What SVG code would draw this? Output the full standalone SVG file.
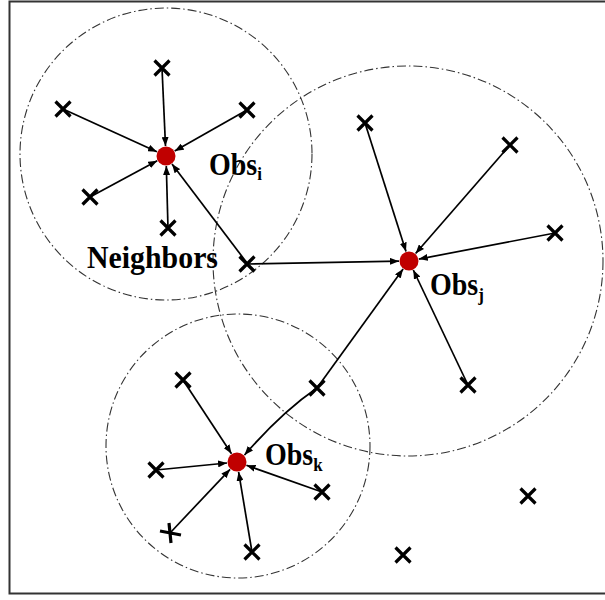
<svg xmlns="http://www.w3.org/2000/svg" width="605" height="600" viewBox="0 0 605 600">
<style>
.rng{fill:none;stroke:#333;stroke-width:1.1;stroke-dasharray:9,3,1.5,3}
.x{stroke:#000;stroke-width:3.2;stroke-linecap:butt;fill:none}
.c{stroke:#000;stroke-width:1.7;fill:none;marker-end:url(#ah)}
.dot{fill:#C00000}
.lbl{font-family:"Liberation Serif","Times New Roman",serif;font-weight:bold;font-size:28px;fill:#000}
.sub{font-size:17px}
</style>
<defs>
<marker id="ah" markerUnits="userSpaceOnUse" markerWidth="9" markerHeight="7" refX="9" refY="3.5" orient="auto">
<path d="M0,0 L9,3.5 L0,7 z" fill="#000"/>
</marker>
<path id="cross" d="M-7.5,-7.5 L7.5,7.5 M-7.5,7.5 L7.5,-7.5" class="x"/>
</defs>
<rect x="9.5" y="1.5" width="605" height="592" fill="#fff" stroke="#333" stroke-width="2"/>
<g id="ranges">
<circle class="rng" cx="166" cy="154" r="146"/>
<circle class="rng" cx="408" cy="261" r="195"/>
<circle class="rng" cx="238" cy="446" r="132"/>
</g>
<g id="connectors">
<line class="c" x1="162" y1="68" x2="165.5" y2="146"/>
<line class="c" x1="63" y1="109" x2="156.9" y2="151.8"/>
<line class="c" x1="247" y1="110" x2="174.7" y2="151.1"/>
<line class="c" x1="90" y1="197" x2="157.2" y2="160.7"/>
<line class="c" x1="168" y1="228" x2="166.3" y2="166"/>
<line class="c" x1="247" y1="263" x2="172" y2="164"/>
<line class="c" x1="365" y1="123" x2="406" y2="251.5"/>
<line class="c" x1="510" y1="145" x2="415.6" y2="253.5"/>
<line class="c" x1="555" y1="233" x2="418.8" y2="259.1"/>
<line class="c" x1="468" y1="385" x2="413.3" y2="270"/>
<line class="c" x1="317" y1="388" x2="403.1" y2="269.1"/>
<line class="c" x1="248" y1="264" x2="399" y2="261.2"/>
<line class="c" x1="183" y1="380" x2="231.5" y2="453.7"/>
<line class="c" x1="156" y1="470" x2="227" y2="463"/>
<line class="c" x1="170" y1="533" x2="230.1" y2="469.3"/>
<line class="c" x1="252" y1="552" x2="238.6" y2="471.9"/>
<line class="c" x1="322" y1="492" x2="246.4" y2="465.3"/>
<path class="c" d="M317,388 Q282,412 244.5,455"/>
</g>
<g id="obs-i"><circle class="dot" cx="166" cy="156" r="9.5"/><text class="lbl" transform="translate(209,175) scale(1,1.15)">Obs<tspan class="sub" dy="4">i</tspan></text></g>
<g id="obs-j"><circle class="dot" cx="409" cy="261" r="9.5"/><text class="lbl" transform="translate(430,295) scale(1,1.15)">Obs<tspan class="sub" dy="5">j</tspan></text></g>
<g id="obs-k"><circle class="dot" cx="237" cy="462" r="9.5"/><text class="lbl" transform="translate(265,465) scale(1,1.15)">Obs<tspan class="sub" dy="5">k</tspan></text></g>
<g id="neighbors-label"><text class="lbl" transform="translate(87,268) scale(1,1.15)" textLength="131" lengthAdjust="spacingAndGlyphs">Neighbors</text></g>
<g id="points">
<use href="#cross" x="162" y="68"/>
<use href="#cross" x="63" y="109"/>
<use href="#cross" x="247" y="110"/>
<use href="#cross" x="90" y="197"/>
<use href="#cross" x="168" y="228"/>
<use href="#cross" x="247" y="264"/>
<use href="#cross" x="365" y="123"/>
<use href="#cross" x="510" y="145"/>
<use href="#cross" x="555" y="233"/>
<use href="#cross" x="468" y="385"/>
<use href="#cross" x="317" y="388"/>
<use href="#cross" x="183" y="380"/>
<use href="#cross" x="156" y="470"/>
<path class="x" d="M160,531 L181,535 M169,523 L171,543"/>
<use href="#cross" x="252" y="552"/>
<use href="#cross" x="322" y="492"/>
<use href="#cross" x="528" y="496"/>
<use href="#cross" x="403" y="555"/>
</g>
</svg>
